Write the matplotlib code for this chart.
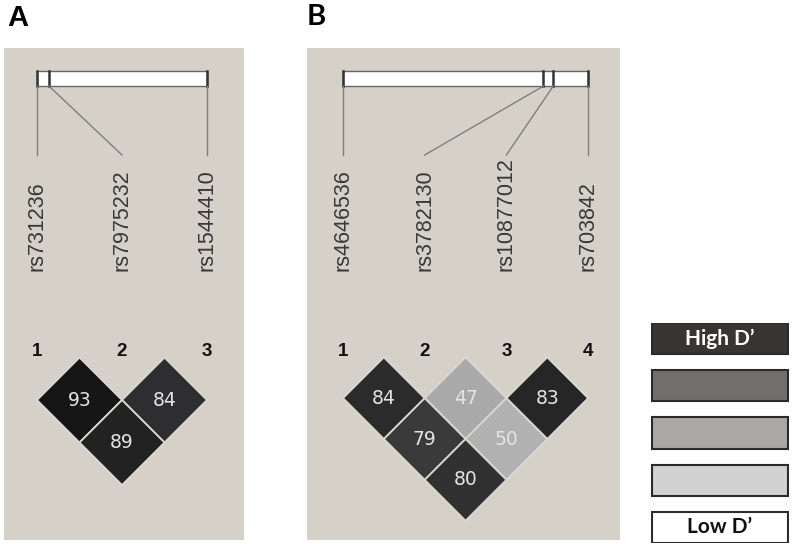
import numpy as np
import matplotlib.pyplot as plt
from matplotlib.patches import Polygon, Rectangle

# dados do painel A
snps_a = ['rs731236', 'rs7975232', 'rs1544410']
pos_a = [0.0, 0.07, 1.0]          # posição relativa no bloco
dprime_a = {(1, 2): 93, (2, 3): 84, (1, 3): 89}
cores_a = {(1, 2): '#161616', (2, 3): '#2e2e30', (1, 3): '#222222'}

# dados do painel B
snps_b = ['rs4646536', 'rs3782130', 'rs10877012', 'rs703842']
pos_b = [0.0, 0.818, 0.858, 1.0]
dprime_b = {(1, 2): 84, (2, 3): 47, (3, 4): 83,
            (1, 3): 79, (2, 4): 50, (1, 4): 80}
cores_b = {(1, 2): '#2b2b2b', (2, 3): '#a9a9a9', (3, 4): '#262626',
           (1, 3): '#3a3a3a', (2, 4): '#b1b1b1', (1, 4): '#313131'}

# legenda
legenda_txt = ['High D\u2019', '', '', '', 'Low D\u2019']
legenda_cor = ['#3a3535', '#736e6e', '#aba7a7', '#d2d2d2', '#ffffff']

W, H = 793, 548
FUNDO = '#d6d1c8'
LINHA_NUM = 352   # linha (px) dos números 1,2,3...

fig = plt.figure(figsize=(W / 100, H / 100), dpi=100)


def eixo_px(x0, y0, x1, y1):
    return fig.add_axes([x0 / W, 1 - y1 / H, (x1 - x0) / W, (y1 - y0) / H])


def painel(caixa, snps, pos, dprime, cores, mx, passo):
    x0, y0, x1, y1 = caixa
    ax = eixo_px(x0, y0, x1, y1)
    n = len(snps)
    ax.set_xlim(1 + (x0 - mx) / passo, 1 + (x1 - mx) / passo)
    ax.set_ylim((LINHA_NUM - y1) / passo, (LINHA_NUM - y0) / passo)
    ax.set_facecolor(FUNDO)
    ax.set_xticks([])
    ax.set_yticks([])
    for s in ax.spines.values():
        s.set_visible(False)

    def y(px):
        return (LINHA_NUM - px) / passo

    # bloco (barra branca) com as posições dos SNPs
    bx = 1 + np.array(pos) * (n - 1)
    ax.add_patch(Rectangle((1, y(86)), n - 1, y(71) - y(86),
                           facecolor='white', edgecolor='#666666', lw=1.0))
    for xb in bx:
        ax.plot([xb, xb], [y(86), y(71)], color='#333333', lw=1.8)
    # linhas de ligação até os rótulos
    for i, xb in enumerate(bx):
        ax.plot([xb, i + 1], [y(86), y(155)], color='#7f7f7f', lw=1.0)
        ax.text(i + 1, y(271), snps[i], rotation=90, ha='center', va='bottom',
                fontsize=15.5, color='#383838', family='Liberation Sans')
        ax.text(i + 1, 0, str(i + 1), ha='center', va='center',
                fontsize=13.5, fontweight='bold', color='#111111',
                family='Liberation Sans')

    # diamantes de LD
    for (i, j), v in dprime.items():
        cx = (i + j) / 2
        cy = -0.565 - (j - i - 1) * 0.5
        d = 0.5
        ax.add_patch(Polygon([(cx, cy + d), (cx + d, cy), (cx, cy - d), (cx - d, cy)],
                             closed=True, facecolor=cores[(i, j)],
                             edgecolor='#dcd8d0', lw=1.3))
        ax.text(cx, cy, str(v), ha='center', va='center', fontsize=13.5,
                color='#e4e4e4', family='DejaVu Sans')
    return ax


painel((4, 48, 244, 540), snps_a, pos_a, dprime_a, cores_a, 37, 85)
painel((307, 48, 620, 540), snps_b, pos_b, dprime_b, cores_b, 343, 81.7)

fig.text(7 / W, 1 - 4 / H, 'A', ha='left', va='top', fontsize=21,
         fontweight='bold', family='Liberation Sans')
fig.text(307 / W, 1 - 4 / H, 'B', ha='left', va='top', fontsize=21,
         fontweight='bold', family='Lato')

# escala de cores (legenda)
axl = eixo_px(651, 323, 789, 543)
axl.barh(range(len(legenda_cor)), 1, left=0, height=0.66, color=legenda_cor,
         edgecolor='#2b2b2b', lw=1.5)
for i, t in enumerate(legenda_txt):
    if t:
        axl.text(0.5, i, t, ha='center', va='center', fontsize=15,
                 fontweight='bold', family='Lato',
                 color='white' if i == 0 else '#111111')
axl.set_xlim(-0.01, 1.01)
axl.set_ylim(4 + 0.33, -0.33)
axl.axis('off')

fig.savefig('out.png', dpi=100)
